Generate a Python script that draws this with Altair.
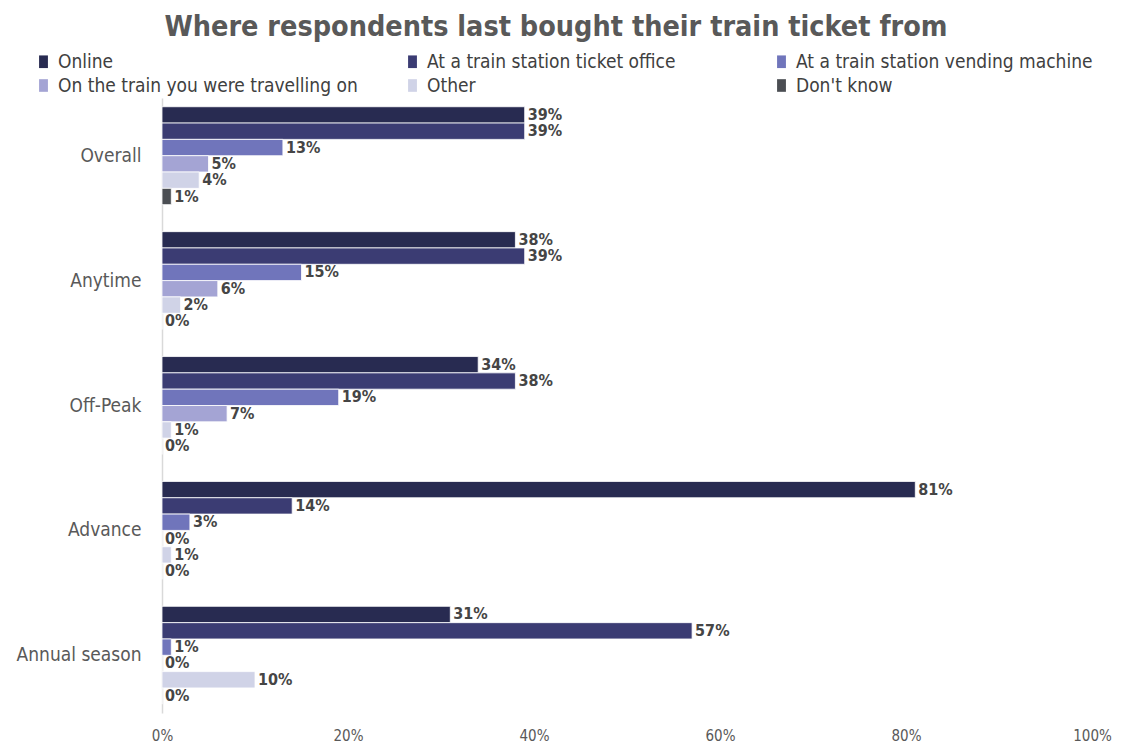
import altair as alt
import pandas as pd

categories = ["Overall", "Anytime", "Off-Peak", "Advance", "Annual season"]
series = ["Online", "At a train station ticket office", "At a train station vending machine",
          "On the train you were travelling on", "Other", "Don't know"]
colors = ["#282b51", "#3b3c73", "#7075bb", "#a4a4d4", "#d0d3e7", "#4b4e53"]
values = {
    "Overall": [39, 39, 13, 5, 4, 1],
    "Anytime": [38, 39, 15, 6, 2, 0],
    "Off-Peak": [34, 38, 19, 7, 1, 0],
    "Advance": [81, 14, 3, 0, 1, 0],
    "Annual season": [31, 57, 1, 0, 10, 0],
}

rows = []
for c in categories:
    for s, v in zip(series, values[c]):
        rows.append({"category": c, "source": s, "value": v, "label": f"{v}%"})
df = pd.DataFrame(rows)

FONT = "DejaVu Sans Condensed, Liberation Sans, sans-serif"

y = alt.Y("category:N", sort=categories, title=None,
          scale=alt.Scale(paddingInner=0.216, paddingOuter=0.07),
          axis=alt.Axis(ticks=False, labelPadding=21, labelFontSize=19, labelColor="#595959",
                        labelFont=FONT, domainColor="#d9d9d9", domainWidth=1.5))
yoff = alt.YOffset("source:N", sort=series, scale=alt.Scale(paddingInner=0, paddingOuter=0))
x = alt.X("value:Q", title=None,
          scale=alt.Scale(domain=[0, 100], nice=False),
          axis=alt.Axis(values=[0, 20, 40, 60, 80, 100], labelExpr="datum.value + '%'",
                        grid=False, domain=False, ticks=False, labelPadding=15,
                        labelFlush=False, labelFontSize=15, labelColor="#595959",
                        labelFont=FONT))

bars = alt.Chart(df).mark_bar(stroke="white", strokeWidth=0.8).encode(
    x=x, y=y, yOffset=yoff,
    color=alt.Color("source:N", sort=series,
                    scale=alt.Scale(domain=series, range=colors),
                    legend=alt.Legend(title=None, orient="none", legendX=-128, legendY=-46,
                                      columns=3, symbolType="M-0.7,-1V1H0.7V-1Z", symbolSize=160,
                                      symbolStrokeWidth=0, labelFontSize=19, labelColor="#404040",
                                      labelFont=FONT, gridAlign="all", columnPadding=45,
                                      labelOffset=5, rowPadding=4, labelLimit=400,
                                      direction="horizontal")),
)
text = alt.Chart(df).mark_text(align="left", baseline="middle", dx=3, fontSize=16,
                               fontWeight="bold", color="#454545", font=FONT).encode(
    x=x, y=y, yOffset=yoff, text="label:N")

chart = (bars + text).properties(
    width=930, height=615,
    title=alt.TitleParams("Where respondents last bought their train ticket from",
                          fontSize=28.5, font=FONT, fontWeight="bold", color="#595959",
                          anchor="middle", offset=11, dx=-71),
).configure(padding={"top": 4, "left": 8, "right": 0, "bottom": 0}).configure_view(stroke=None)

chart.save("out.html", embed_options={"renderer": "svg", "actions": False})
